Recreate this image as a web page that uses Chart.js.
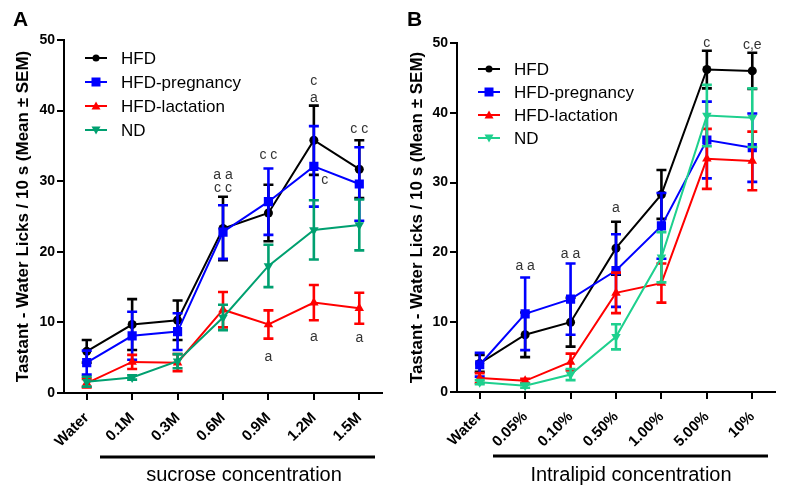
<!DOCTYPE html>
<html>
<head>
<meta charset="utf-8">
<script src="https://cdn.jsdelivr.net/npm/chart.js@4.4.1/dist/chart.umd.min.js"></script>
<style>
  html, body { margin: 0; padding: 0; background: #fff; }
  #wrap { position: relative; width: 788px; height: 492px; }
  .panel { position: absolute; top: 0; width: 394px; height: 492px; }
</style>
</head>
<body>
<div id="wrap">
  <div class="panel" style="left:0"><canvas id="chartA" width="394" height="492"></canvas></div>
  <div class="panel" style="left:394px"><canvas id="chartB" width="394" height="492"></canvas></div>
</div>
<script>
const FONT = "'Liberation Sans', Arial, Helvetica, sans-serif";

// categories
const sucroseLabels = ['Water', '0.1M', '0.3M', '0.6M', '0.9M', '1.2M', '1.5M'];
const lipidLabels = ['Water', '0.05%', '0.10%', '0.50%', '1.00%', '5.00%', '10%'];
const groupNames = ['HFD', 'HFD-pregnancy', 'HFD-lactation', 'ND'];
const yTicks = [0, 10, 20, 30, 40, 50];

// panel A - sucrose (mean, sem)
const sucHFD = [5.9, 9.7, 10.3, 23.3, 25.5, 35.8, 31.7];
const sucHFDsem = [1.6, 3.6, 2.8, 4.5, 4.0, 4.9, 4.1];
const sucPreg = [4.3, 8.1, 8.7, 22.8, 27.1, 32.1, 29.6];
const sucPregSem = [1.7, 3.4, 2.6, 3.8, 4.7, 5.7, 5.2];
const sucLact = [1.4, 4.4, 4.3, 11.8, 9.7, 12.8, 12.0];
const sucLactSem = [0.6, 1.0, 1.2, 2.5, 2.0, 2.5, 2.2];
const sucND = [1.6, 2.2, 4.5, 10.7, 18.0, 23.1, 23.8];
const sucNDsem = [0.7, 0.3, 1.0, 1.8, 3.0, 4.2, 3.6];

// panel B - intralipid (mean, sem)
const lipHFD = [4.1, 8.2, 10.0, 20.6, 28.3, 46.2, 46.0];
const lipHFDsem = [1.2, 3.2, 3.5, 3.8, 3.5, 2.7, 2.6];
const lipPreg = [3.9, 11.2, 13.3, 17.4, 23.8, 36.1, 35.0];
const lipPregSem = [1.7, 5.2, 5.1, 5.2, 4.7, 5.5, 4.9];
const lipLact = [2.0, 1.6, 4.3, 14.2, 15.6, 33.4, 33.1];
const lipLactSem = [0.7, 0.3, 1.2, 2.9, 2.8, 4.3, 4.2];
const lipND = [1.4, 0.9, 2.5, 7.9, 19.3, 39.6, 39.3];
const lipNDsem = [0.3, 0.3, 0.8, 1.8, 3.6, 4.4, 4.2];

// significance letters: category index, value where the text sits
const sucNotes = [
    { i: 3, v: 30.9, text: 'a a' }, { i: 3, v: 29.0, text: 'c c' },
    { i: 4, v: 33.7, text: 'c c' },
    { i: 5, v: 44.2, text: 'c' }, { i: 5, v: 41.8, text: 'a' }, { i: 5, v: 30.2, text: 'c', dx: 11 },
    { i: 6, v: 37.4, text: 'c c' },
    { i: 4, v: 5.1, text: 'a' }, { i: 5, v: 7.9, text: 'a' }, { i: 6, v: 7.8, text: 'a' }
];
const lipNotes = [
    { i: 1, v: 18.0, text: 'a a' }, { i: 2, v: 19.8, text: 'a a' },
    { i: 3, v: 26.4, text: 'a' }, { i: 5, v: 50.0, text: 'c' }, { i: 6, v: 49.7, text: 'c,e' }
];

const SHAPES = ['circle', 'rect', 'triangle', 'down'];

function drawMarker(ctx, shape, x, y, r) {
    ctx.beginPath();
    if (shape === 'circle') {
        ctx.arc(x, y, r, 0, Math.PI * 2);
    } else if (shape === 'rect') {
        ctx.rect(x - r, y - r, 2 * r, 2 * r);
    } else {
        const s = shape === 'down' ? -1 : 1;
        ctx.moveTo(x, y - s * r);
        ctx.lineTo(x + r, y + s * r * 0.8);
        ctx.lineTo(x - r, y + s * r * 0.8);
        ctx.closePath();
    }
    ctx.fill();
}

function decorPlugin(cfg) {
    return {
        id: 'decor' + cfg.letter,
        // error bars go under each series' line and markers
        beforeDatasetDraw(chart, args) {
            const ds = chart.data.datasets[args.index];
            const ys = chart.scales.y;
            const ctx = chart.ctx;
            ctx.save();
            ctx.strokeStyle = ds.borderColor;
            ctx.lineWidth = 2.6;
            args.meta.data.forEach((pt, i) => {
                const top = ys.getPixelForValue(ds.data[i] + ds.sem[i]);
                const bot = ys.getPixelForValue(Math.max(0, ds.data[i] - ds.sem[i]));
                ctx.beginPath();
                ctx.moveTo(pt.x, top); ctx.lineTo(pt.x, bot);
                ctx.moveTo(pt.x - 5, top); ctx.lineTo(pt.x + 5, top);
                ctx.moveTo(pt.x - 5, bot); ctx.lineTo(pt.x + 5, bot);
                ctx.stroke();
            });
            ctx.restore();
        },
        afterDatasetsDraw(chart) {
            const ctx = chart.ctx;
            const xs = chart.scales.x, ys = chart.scales.y;
            const area = chart.chartArea;
            ctx.save();
            // letters
            ctx.font = '14px ' + FONT;
            ctx.fillStyle = '#333';
            ctx.textAlign = 'center';
            ctx.textBaseline = 'middle';
            cfg.notes.forEach(n => {
                ctx.fillText(n.text, xs.getPixelForValue(n.i) + (n.dx || 0), ys.getPixelForValue(n.v));
            });
            // legend
            ctx.font = '17px ' + FONT;
            ctx.textAlign = 'left';
            chart.data.datasets.forEach((ds, k) => {
                const x0 = area.left + cfg.legend.x;
                const y0 = area.top + cfg.legend.y + k * cfg.legend.gap;
                ctx.strokeStyle = ds.borderColor;
                ctx.fillStyle = ds.borderColor;
                ctx.lineWidth = 2;
                ctx.beginPath(); ctx.moveTo(x0, y0); ctx.lineTo(x0 + 22, y0); ctx.stroke();
                drawMarker(ctx, SHAPES[k], x0 + 11, y0, k === 0 ? 3.5 : 4.5);
                ctx.fillStyle = '#000';
                ctx.fillText(ds.label, x0 + 36, y0 + 1);
            });
            ctx.restore();
        },
        afterDraw(chart) {
            const ctx = chart.ctx;
            ctx.save();
            ctx.fillStyle = '#000';
            ctx.font = 'bold 21px ' + FONT;
            ctx.textAlign = 'left';
            ctx.textBaseline = 'alphabetic';
            ctx.fillText(cfg.letter, 13, 26);
            // bar under the concentration ticks
            ctx.strokeStyle = '#000';
            ctx.lineWidth = 3;
            ctx.beginPath(); ctx.moveTo(cfg.bar[0], cfg.bar[2]); ctx.lineTo(cfg.bar[1], cfg.bar[2]); ctx.stroke();
            ctx.font = '20px ' + FONT;
            ctx.textAlign = 'center';
            ctx.fillText(cfg.caption, cfg.captionX, 481);
            ctx.restore();
        }
    };
}

function makeChart(id, cfg) {
    const datasets = groupNames.map((name, k) => ({
        label: name,
        data: cfg.means[k],
        sem: cfg.sems[k],
        borderColor: cfg.colors[k],
        backgroundColor: cfg.colors[k],
        pointBackgroundColor: cfg.colors[k],
        pointBorderColor: cfg.colors[k],
        pointBorderWidth: 0,
        pointStyle: ['circle', 'rect', 'triangle', 'triangle'][k],
        pointRotation: k === 3 ? 180 : 0,
        pointRadius: [4.5, 6.5, 5.5, 5.5][k],
        borderWidth: 2,
        tension: 0,
        fill: false,
        order: 4 - k
    }));

    return new Chart(document.getElementById(id), {
        type: 'line',
        data: { labels: cfg.labels, datasets },
        options: {
            responsive: false,
            animation: false,
            layout: { padding: { top: cfg.top, right: cfg.right, left: 0, bottom: 0 } },
            plugins: { legend: { display: false }, tooltip: { enabled: false } },
            scales: {
                x: {
                    type: 'category',
                    offset: true,
                    afterFit: s => { s.height = cfg.xHeight; },
                    border: { color: '#000', width: 2 },
                    grid: { drawOnChartArea: false, tickLength: 7, color: '#000', lineWidth: 2 },
                    ticks: { color: '#000', font: { family: FONT, size: 15, weight: 'bold' }, minRotation: 45, maxRotation: 45, padding: 9 }
                },
                y: {
                    min: 0,
                    max: 50,
                    afterFit: s => { s.width = cfg.yWidth; },
                    afterBuildTicks: s => { s.ticks = yTicks.map(v => ({ value: v })); },
                    border: { color: '#000', width: 2 },
                    grid: { drawOnChartArea: false, tickLength: 7, color: '#000', lineWidth: 2 },
                    ticks: { color: '#000', font: { family: FONT, size: 14, weight: 'bold' }, padding: 2 },
                    title: {
                        display: true,
                        text: 'Tastant - Water Licks / 10 s (Mean ± SEM)',
                        color: '#000',
                        font: { family: FONT, size: 17, weight: 'bold' },
                        padding: { top: 13, bottom: 0 }
                    }
                }
            }
        },
        plugins: [decorPlugin(cfg)]
    });
}

makeChart('chartA', {
    letter: 'A',
    labels: sucroseLabels,
    means: [sucHFD, sucPreg, sucLact, sucND],
    sems: [sucHFDsem, sucPregSem, sucLactSem, sucNDsem],
    colors: ['#000000', '#0000FF', '#FF0000', '#00A070'],
    notes: sucNotes,
    legend: { x: 21, y: 18, gap: 24 },
    top: 40, right: 12, xHeight: 99, yWidth: 64,
    bar: [100, 375, 457],
    caption: 'sucrose concentration',
    captionX: 244
});

makeChart('chartB', {
    letter: 'B',
    labels: lipidLabels,
    means: [lipHFD, lipPreg, lipLact, lipND],
    sems: [lipHFDsem, lipPregSem, lipLactSem, lipNDsem],
    colors: ['#000000', '#0000FF', '#FF0000', '#1ED08E'],
    notes: lipNotes,
    legend: { x: 21, y: 26, gap: 23 },
    top: 43, right: 13, xHeight: 100, yWidth: 63,
    bar: [99, 374, 456],
    caption: 'Intralipid concentration',
    captionX: 237
});
</script>
</body>
</html>
